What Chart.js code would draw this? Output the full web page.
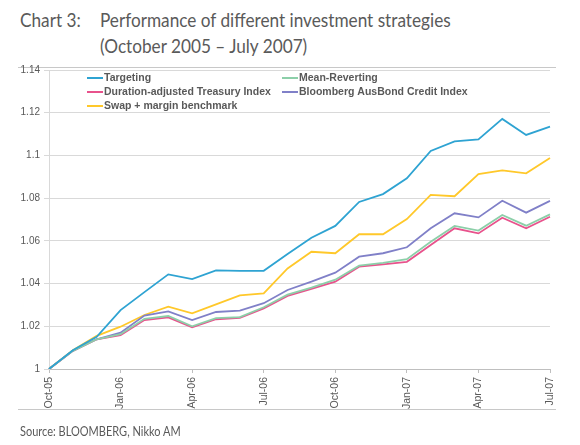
<!DOCTYPE html>
<html>
<head>
<meta charset="utf-8">
<script src="https://cdn.jsdelivr.net/npm/chart.js@4"></script>
<style>
  body { margin: 0; background: #fff; }
  #wrap { position: relative; width: 580px; height: 445px; overflow: hidden; font-family: Lato, "Open Sans", sans-serif; color: #5a5a5a; }
  .t { position: absolute; font-size: 20px; white-space: nowrap; line-height: 1; transform: scaleX(0.86); transform-origin: 0 0; }
  .rule { position: absolute; left: 18px; width: 538px; height: 1px; background: #c8c8c8; }
  #src { position: absolute; left: 20px; top: 426px; font-size: 12.5px; line-height: 1; white-space: nowrap; transform: scaleX(0.88); transform-origin: 0 0; }
  canvas { position: absolute; left: 0; top: 0; }
</style>
</head>
<body>
<div id="wrap">
  <div class="t" style="left:20px; top:9px;">Chart 3:</div>
  <div class="t" style="left:100px; top:9px;">Performance of different investment strategies</div>
  <div class="t" style="left:100px; top:35px;">(October 2005 – July 2007)</div>
  <div class="rule" style="top:67px;"></div>
  <div class="rule" style="top:409px;"></div>
  <canvas id="perfChart" width="580" height="445"></canvas>
  <div id="src">Source: BLOOMBERG, Nikko AM</div>
</div>
<script>
// monthly index levels, Oct-05 .. Jul-07
const months = ['Oct-05', 'Nov-05', 'Dec-05', 'Jan-06', 'Feb-06', 'Mar-06', 'Apr-06', 'May-06',
  'Jun-06', 'Jul-06', 'Aug-06', 'Sep-06', 'Oct-06', 'Nov-06', 'Dec-06', 'Jan-07', 'Feb-07',
  'Mar-07', 'Apr-07', 'May-07', 'Jun-07', 'Jul-07'];

const targeting = [1.000, 1.0088, 1.0151, 1.0276, 1.0360, 1.0443, 1.0421, 1.0462, 1.0459, 1.0460, 1.0538,
  1.0615, 1.0670, 1.0782, 1.0819, 1.0893, 1.1021, 1.1066, 1.1075, 1.1171, 1.1096, 1.1135];
const meanReverting = [1.000, 1.0085, 1.0139, 1.0163, 1.0235, 1.0248, 1.0200, 1.0238, 1.0243, 1.0289, 1.0348,
  1.0381, 1.0418, 1.0484, 1.0497, 1.0514, 1.0596, 1.0670, 1.0648, 1.0721, 1.0671, 1.0724];
const durationAdjusted = [1.000, 1.0085, 1.0139, 1.0158, 1.0229, 1.0242, 1.0195, 1.0233, 1.0240, 1.0284, 1.0342,
  1.0375, 1.0409, 1.0479, 1.0490, 1.0502, 1.0581, 1.0659, 1.0635, 1.0708, 1.0659, 1.0713];
const ausBond = [1.000, 1.0085, 1.0139, 1.0170, 1.0250, 1.0270, 1.0229, 1.0267, 1.0273, 1.0308, 1.0370,
  1.0409, 1.0451, 1.0526, 1.0542, 1.0570, 1.0659, 1.0729, 1.0710, 1.0788, 1.0732, 1.0787];
const swapMargin = [1.000, 1.0088, 1.0155, 1.0198, 1.0253, 1.0292, 1.0261, 1.0303, 1.0345, 1.0354, 1.0471,
  1.0549, 1.0542, 1.0631, 1.0631, 1.0702, 1.0815, 1.0809, 1.0913, 1.0930, 1.0916, 1.0988];

const seriesLabels = ['Targeting', 'Mean-Reverting', 'Duration-adjusted Treasury Index',
  'Bloomberg AusBond Credit Index', 'Swap + margin benchmark'];
const seriesColors = ['#2ea3d2', '#8ccfa9', '#e8528c', '#8080c8', '#ffc82a'];
const seriesData = [targeting, meanReverting, durationAdjusted, ausBond, swapMargin];

const axisGrey = '#595959';
const gridGrey = '#d9d9d9';

// two-column legend drawn inside the plot, like the original
const legendColX = [87, 282];
const legendRowY = [78, 92, 106];
const boxLegend = {
  id: 'boxLegend',
  afterDraw(chart) {
    const ctx = chart.ctx;
    ctx.save();
    ctx.font = 'bold 10.5px "Liberation Sans", Arial, sans-serif';
    ctx.textBaseline = 'middle';
    chart.data.datasets.forEach((ds, i) => {
      const x = legendColX[i % 2];
      const y = legendRowY[Math.floor(i / 2)];
      ctx.strokeStyle = ds.borderColor;
      ctx.lineWidth = 2;
      ctx.beginPath();
      ctx.moveTo(x, y);
      ctx.lineTo(x + 16, y);
      ctx.stroke();
      ctx.fillStyle = axisGrey;
      ctx.fillText(ds.label, x + 17, y + 0.5);
    });
    ctx.restore();
  }
};

new Chart(document.getElementById('perfChart'), {
  type: 'line',
  data: {
    labels: months,
    datasets: seriesData.map((d, i) => ({
      label: seriesLabels[i],
      data: d,
      borderColor: seriesColors[i],
      backgroundColor: seriesColors[i],
      borderWidth: 1.8,
      pointRadius: 0,
      tension: 0
    }))
  },
  options: {
    responsive: false,
    animation: false,
    layout: { padding: { top: 70, right: 30, left: 0, bottom: 0 } },
    plugins: {
      legend: { display: false },
      tooltip: { enabled: false }
    },
    scales: {
      x: {
        afterFit(scale) { scale.height = 76; },
        grid: {
          drawOnChartArea: false,
          tickLength: 4,
          color: c => (c.index % 3 === 0 ? '#bfbfbf' : 'rgba(0,0,0,0)')
        },
        border: { color: '#bfbfbf' },
        ticks: {
          autoSkip: false,
          maxRotation: 90,
          minRotation: 90,
          padding: 4,
          color: axisGrey,
          font: { family: '"Liberation Sans", Arial, sans-serif', size: 10.5 },
          callback: (v, i) => (i % 3 === 0 ? months[i] : '')
        }
      },
      y: {
        min: 1,
        max: 1.14,
        afterFit(scale) { scale.width = 49; },
        grid: { color: gridGrey, tickLength: 5 },
        border: { color: gridGrey },
        ticks: {
          stepSize: 0.02,
          padding: 4,
          color: axisGrey,
          font: { family: '"Liberation Sans", Arial, sans-serif', size: 10 },
          callback: v => String(+v.toFixed(2))
        }
      }
    }
  },
  plugins: [boxLegend]
});
</script>
</body>
</html>
